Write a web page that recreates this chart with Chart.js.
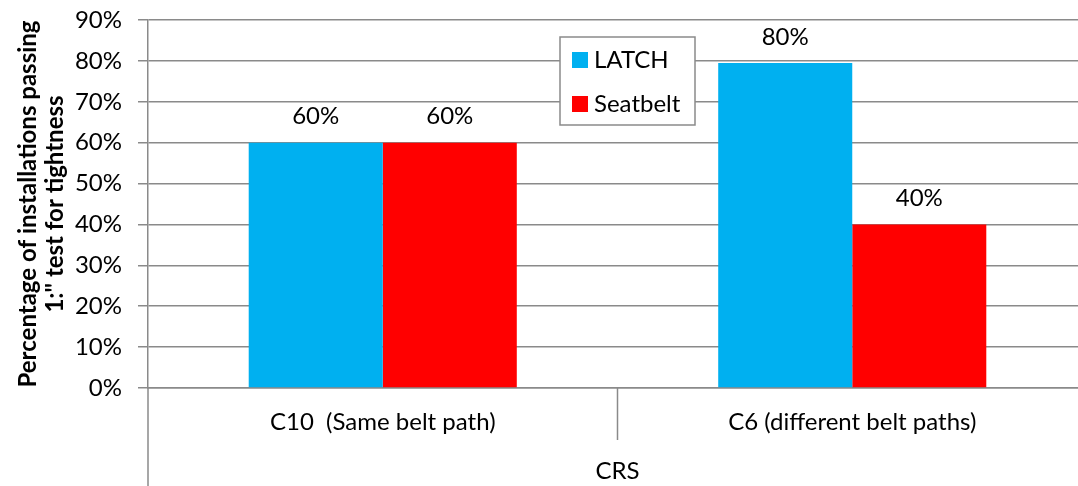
<!DOCTYPE html>
<html lang="en">
  <head>
    <meta charset="UTF-8" />
    <title>LATCH vs Seatbelt tightness</title>
    <script src="https://cdn.jsdelivr.net/npm/chart.js"></script>
    <style>
      html, body { margin: 0; padding: 0; background: #fff; overflow: hidden; }
      #wrap { width: 1087px; height: 486px; }
    </style>
  </head>
  <body>
    <div id="wrap"><canvas id="tightChart" width="1087" height="486"></canvas></div>

    <script>
      // values
      const categories = ["C10  (Same belt path)", "C6 (different belt paths)"];
      const latch = [60, 79.5];
      const seatbelt = [60, 40];
      const seriesNames = ["LATCH", "Seatbelt"];
      const seriesColors = ["#00B0F0", "#FF0000"];

      const FONT = "Lato";
      const FS = 24;
      const GRID = "#8a8a8a";

      // data labels above each bar
      const barLabels = {
        id: "barLabels",
        afterDatasetsDraw(chart) {
          const ctx = chart.ctx;
          ctx.save();
          ctx.font = FS + "px " + FONT;
          ctx.fillStyle = "#000";
          ctx.textAlign = "center";
          ctx.textBaseline = "middle";
          chart.data.datasets.forEach((ds, i) => {
            chart.getDatasetMeta(i).data.forEach((bar, j) => {
              ctx.fillText(Math.round(ds.data[j]) + "%", bar.x, bar.y - 26);
            });
          });
          ctx.restore();
        },
      };

      // long y axis line + category separators, like the excel original
      const axisExtras = {
        id: "axisExtras",
        afterDraw(chart) {
          const ctx = chart.ctx;
          const area = chart.chartArea;
          const x = chart.scales.x;
          ctx.save();
          ctx.strokeStyle = GRID;
          ctx.lineWidth = 1.5;
          ctx.beginPath();
          ctx.moveTo(area.left, area.bottom);
          ctx.lineTo(area.left, chart.height);
          for (let i = 1; i < categories.length; i++) {
            const sx = (x.getPixelForTick(i - 1) + x.getPixelForTick(i)) / 2;
            ctx.moveTo(sx, area.bottom);
            ctx.lineTo(sx, area.bottom + 52);
          }
          ctx.stroke();
          ctx.restore();
        },
      };

      // boxed legend sitting inside the plot
      const boxLegend = {
        id: "boxLegend",
        afterDraw(chart) {
          const ctx = chart.ctx;
          const bx = 560, by = 37, bw = 135, bh = 88;
          ctx.save();
          ctx.fillStyle = "#fff";
          ctx.fillRect(bx, by, bw, bh);
          ctx.strokeStyle = GRID;
          ctx.lineWidth = 1.5;
          ctx.strokeRect(bx, by, bw, bh);
          ctx.font = FS + "px " + FONT;
          ctx.textBaseline = "middle";
          chart.data.datasets.forEach((ds, i) => {
            const cy = by + 23 + i * 44;
            ctx.fillStyle = ds.backgroundColor;
            ctx.fillRect(bx + 12, cy - 8, 16, 16);
            ctx.fillStyle = "#000";
            ctx.fillText(ds.label, bx + 34, cy);
          });
          ctx.restore();
        },
      };

      const ctx = document.getElementById("tightChart").getContext("2d");

      new Chart(ctx, {
        type: "bar",
        data: {
          labels: categories,
          datasets: [
            {
              label: seriesNames[0],
              data: latch,
              backgroundColor: seriesColors[0],
              barPercentage: 1,
              categoryPercentage: 0.571,
            },
            {
              label: seriesNames[1],
              data: seatbelt,
              backgroundColor: seriesColors[1],
              barPercentage: 1,
              categoryPercentage: 0.571,
            },
          ],
        },
        options: {
          responsive: false,
          animation: false,
          layout: { padding: { top: 20, right: 0, left: 0, bottom: 0 } },
          plugins: {
            legend: { display: false },
            tooltip: { enabled: false },
          },
          scales: {
            x: {
              grid: { display: false },
              border: { color: GRID, width: 1.5 },
              ticks: {
                color: "#000",
                font: { family: FONT, size: FS },
                padding: 12,
              },
              title: {
                display: true,
                text: "CRS",
                color: "#000",
                font: { family: FONT, size: FS },
                padding: { top: 12, bottom: 0 },
              },
              afterFit(scale) {
                scale.height = 98;
              },
            },
            y: {
              min: 0,
              max: 90,
              grid: { color: GRID, lineWidth: 1.5, tickLength: 10 },
              border: { color: GRID, width: 1.5 },
              ticks: {
                stepSize: 10,
                color: "#000",
                font: { family: FONT, size: FS },
                padding: 16,
                callback: (v) => v + "%",
              },
              title: {
                display: true,
                text: ["Percentage of installations passing", '1:" test for tightness'],
                color: "#000",
                font: { family: FONT, size: 24, weight: "bold", lineHeight: 1.15 },
                padding: { top: 14, bottom: 0 },
              },
              afterFit(scale) {
                scale.width = 148;
                scale.paddingTop = 0;
              },
            },
          },
        },
        plugins: [barLabels, axisExtras, boxLegend],
      });
    </script>
  </body>
</html>
